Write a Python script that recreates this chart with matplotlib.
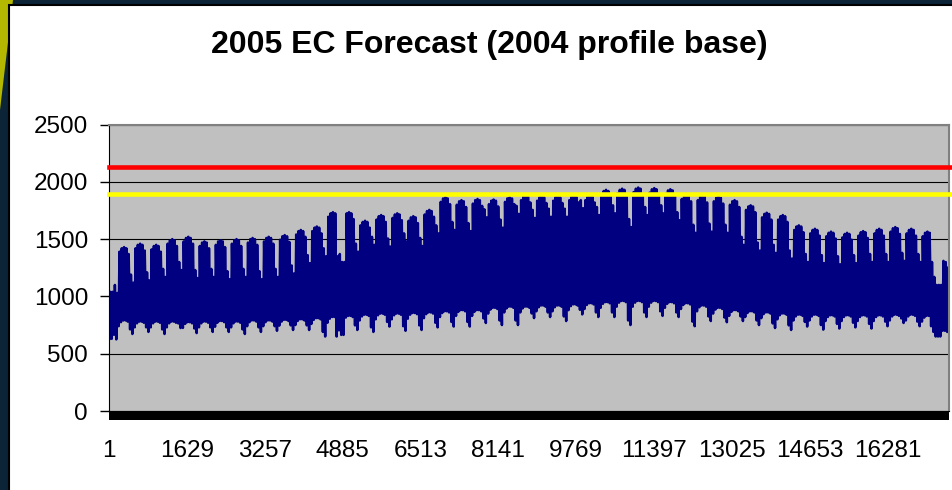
import matplotlib
matplotlib.use("Agg")
import matplotlib.pyplot as plt
from matplotlib.patches import Rectangle, Polygon
import numpy as np

plt.rcParams['font.family'] = ['Liberation Sans', 'DejaVu Sans']

title = "2005 EC Forecast (2004 profile base)"

# half-hourly profile, 2004 (leap year) -> 366 days * 48
n_points = 17568
tick_step = 1628

# weekly values, weeks start on Saturday
# (week 0 = Thu 1 Jan + Fri 2 Jan)
weekday_peak = [1040, 1420, 1450, 1440, 1490, 1510, 1470, 1480, 1490, 1500,
                1510, 1525, 1570, 1600, 1725, 1725, 1650, 1700, 1715, 1690,
                1745, 1855, 1830, 1840, 1835, 1855, 1870, 1865, 1865, 1870,
                1870, 1920, 1930, 1940, 1935, 1925, 1880, 1870, 1860, 1830,
                1785, 1720, 1700, 1610, 1580, 1555, 1545, 1560, 1580, 1595,
                1580, 1555, 1300]
weekend_peak = [1030, 1030, 1120, 1140, 1170, 1230, 1160, 1170, 1150, 1170,
                1150, 1170, 1200, 1290, 1350, 1300, 1390, 1450, 1435, 1480,
                1440, 1550, 1580, 1570, 1690, 1600, 1720, 1685, 1695, 1695,
                1770, 1710, 1725, 1605, 1710, 1725, 1665, 1555, 1565, 1555,
                1450, 1400, 1380, 1330, 1300, 1290, 1280, 1290, 1300, 1300,
                1310, 1300, 1100]
weekday_trough = [630, 790, 780, 780, 780, 775, 780, 785, 780, 790,
                  790, 795, 800, 810, 820, 830, 840, 850, 850, 855,
                  860, 870, 880, 880, 900, 910, 910, 920, 920, 930,
                  940, 950, 960, 960, 960, 950, 940, 920, 900, 880,
                  870, 860, 850, 840, 840, 835, 835, 835, 835, 840,
                  840, 830, 700]
weekend_trough = [630, 625, 672, 690, 672, 724, 680, 690, 690, 672,
                  690, 700, 707, 707, 650, 664, 707, 690, 737, 700,
                  707, 730, 737, 737, 768, 750, 750, 811, 820, 785,
                  843, 820, 820, 750, 820, 830, 820, 740, 785, 775,
                  785, 750, 724, 707, 737, 710, 720, 730, 720, 740,
                  768, 740, 650]
# day-of-week adjustments (Mon..Sun) seen in the block shapes
peak_adjust = [-30, 0, 10, 0, -50, 70, 0]
trough_adjust = [-50, -15, 0, 0, -10, 40, 0]
# Good Friday, Easter Monday, Christmas Eve, 27-28 Dec
holidays = [99, 102, 358, 361, 362]

red_level = 2130
yellow_level = 1890

# one trough (~04:30) and one peak (~13:30) per day
xs, ys = [], []
for d in range(n_points // 48):
    w = (d + 5) // 7
    dow = (d + 3) % 7          # 1 Jan 2004 was a Thursday
    off = dow >= 5 or d in holidays
    lo = weekend_trough[w] if off else weekday_trough[w]
    hi = weekend_peak[w] if off else weekday_peak[w]
    if w > 0 and d not in holidays:
        lo += trough_adjust[dow]
        hi += peak_adjust[dow]
    xs += [d * 48 + 10, d * 48 + 28]
    ys += [lo, hi]

fig = plt.figure(figsize=(9.53, 4.9), dpi=100)
fig.patch.set_facecolor('#0b2438')
fig.add_artist(Polygon([(0, 1), (13 / 953, 1), (0, 1 - 110 / 490)],
                       closed=True, transform=fig.transFigure,
                       facecolor='#b5b800', edgecolor='none', zorder=-3))
fig.add_artist(Rectangle((9 / 953, -0.02), 1.0, 1 - 5 / 490 + 0.02,
                         transform=fig.transFigure, facecolor='white',
                         edgecolor='black', lw=1.5, zorder=-2))

ax = fig.add_axes([109 / 953, 1 - 411 / 490, 840 / 953, 286.5 / 490])
ax.set_facecolor('#c0c0c0')
ax.plot(xs, ys, color='#000080', lw=1.8, solid_joinstyle='round')
ax.axhline(red_level, color='#ff0000', lw=3.3, xmax=1.004, clip_on=False, zorder=3)
ax.axhline(yellow_level, color='#ffff00', lw=3.3, xmax=1.004, clip_on=False, zorder=3)

ax.set_xlim(1, n_points)
ax.set_ylim(0, 2500)
ax.set_yticks(range(0, 2501, 500))
ax.yaxis.grid(True, color='black', lw=0.8)
ax.set_axisbelow(True)
ax.set_xticks(range(1, n_points, tick_step))
ax.set_xticklabels([str(v) for v in range(1, n_points, tick_step)])
ax.tick_params(axis='y', length=6.5, width=1, pad=8.6, labelsize=17.5)
ax.tick_params(axis='x', length=0, pad=21, labelsize=17.5)

# category tick marks are so dense they merge into a black band
ax.add_patch(Rectangle((0, -9 / 286.5), 1, 9 / 286.5, transform=ax.transAxes,
                       facecolor='black', edgecolor='none', clip_on=False))

for s in ['top', 'right']:
    ax.spines[s].set_color('#808080')
    ax.spines[s].set_linewidth(1.5)
ax.spines['left'].set_color('black')
ax.spines['bottom'].set_color('black')

fig.text(489 / 953, 1 - 45 / 490, title, ha='center', va='center',
         fontsize=23, fontweight='bold')

fig.savefig("out.png", dpi=100, facecolor=fig.get_facecolor())
